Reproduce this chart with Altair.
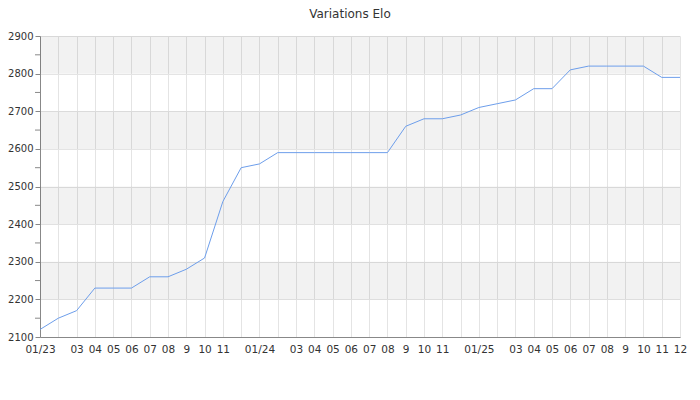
import json
import altair as alt
import pandas as pd

# monthly Elo values, 01/2023 .. 12/2025
month_keys = [f"{y}-{m:02d}" for y in (2023, 2024, 2025) for m in range(1, 13)]
tick_labels = ["01/23", "", "03", "04", "05", "06", "07", "08", "9", "10", "11", "",
               "01/24", "", "03", "04", "05", "06", "07", "08", "9", "10", "11", "",
               "01/25", "", "03", "04", "05", "06", "07", "08", "9", "10", "11", "12"]
elo = [2120, 2150, 2170, 2230, 2230, 2230, 2260, 2260, 2280, 2310, 2460, 2550,
       2560, 2590, 2590, 2590, 2590, 2590, 2590, 2590, 2660, 2680, 2680, 2690,
       2710, 2720, 2730, 2760, 2760, 2810, 2820, 2820, 2820, 2820, 2790, 2790]
band_low = [2200, 2400, 2600, 2800]
band_high = [2300, 2500, 2700, 2900]
y_major = [2100, 2200, 2300, 2400, 2500, 2600, 2700, 2800, 2900]
y_minor = [2150, 2250, 2350, 2450, 2550, 2650, 2750, 2850]

df = pd.DataFrame({"idx": list(range(len(elo))), "month": month_keys, "elo": elo})
bands = pd.DataFrame({"lo": band_low, "hi": band_high})
minor = pd.DataFrame({"v": y_minor})

xscale = alt.Scale(domain=[0, len(elo) - 1], nice=False, zero=False)
yscale = alt.Scale(domain=[2100, 2900], nice=False, zero=False)

label_expr = json.dumps(tick_labels) + "[datum.value]"

x_axis = alt.Axis(values=list(range(len(elo))), labelExpr=label_expr,
                  title=None, ticks=False, grid=True, gridColor="#e4e4e4",
                  domainColor="#888", labelColor="#333", labelFontSize=10.5,
                  labelFont="DejaVu Sans", labelPadding=7, labelOverlap=False,
                  labelFlush=False)

y_axis = alt.Axis(values=y_major, format="d", title=None, grid=True,
                  gridColor="#e4e4e4", tickColor="#888", tickSize=5,
                  domainColor="#888", labelColor="#333", labelFontSize=10,
                  labelFont="DejaVu Sans", labelPadding=2,
                  labelOverlap=False, labelFlush=False)

band_layer = alt.Chart(bands).mark_rect(color="#000000", opacity=0.05).encode(
    y=alt.Y("lo:Q", scale=yscale, axis=y_axis),
    y2="hi:Q",
    x=alt.value(0),
    x2=alt.value(640),
)

minor_ticks = alt.Chart(minor).mark_rule(color="#888888", strokeWidth=1).encode(
    y=alt.Y("v:Q", scale=yscale, axis=y_axis),
    x=alt.value(-5),
    x2=alt.value(0),
)

line = alt.Chart(df).mark_line(color="#6d9eeb", strokeWidth=1).encode(
    x=alt.X("idx:Q", scale=xscale, axis=x_axis),
    y=alt.Y("elo:Q", scale=yscale, axis=y_axis),
)

chart = alt.layer(band_layer, minor_ticks, line).properties(
    width=640, height=301,
    title=alt.TitleParams("Variations Elo", font="DejaVu Sans", fontSize=12,
                          fontWeight="normal", color="#333", anchor="middle",
                          frame="group", dx=-10, offset=10),
    autosize=alt.AutoSizeParams(type="none"),
    padding={"left": 32, "top": 28, "right": 12, "bottom": 55},
).configure_view(stroke=None)

chart.save("out.html", embed_options={"renderer": "svg", "actions": False})
